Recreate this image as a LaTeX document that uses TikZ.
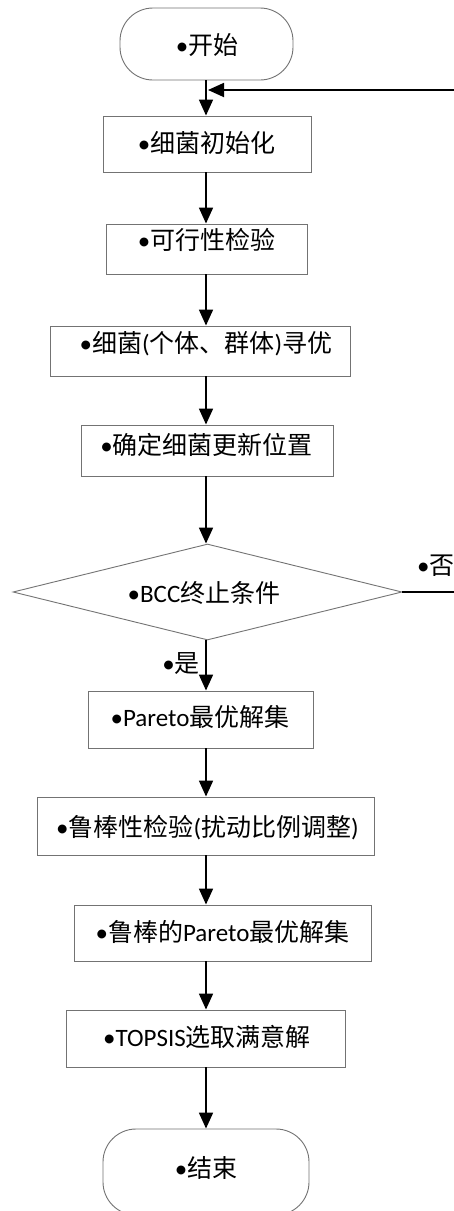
\documentclass[tikz,border=0pt]{standalone}
\usepackage{fontspec}
\setmainfont{Carlito}
\newfontfamily\cjk{Noto Sans CJK SC}
\usetikzlibrary{arrows.meta,shapes.geometric}
\newcommand{\zh}[1]{{\cjk #1}}
\begin{document}
\begin{tikzpicture}[x=1pt,y=-1pt,
  box/.style={draw=black!55, line width=0.9pt, rectangle, inner sep=0pt},
  term/.style={draw=black!55, line width=0.9pt, rectangle, rounded corners=33pt, inner sep=0pt},
  dec/.style={draw=black!55, line width=0.9pt, diamond, inner sep=0pt},
  txt/.style={inner sep=0pt, text height=22pt, text depth=3pt, font=\fontsize{25}{29}\selectfont},
  arr/.style={line width=1.8pt, -{Triangle[length=16pt,width=14pt]}},
  fb/.style={line width=1.8pt}]
\useasboundingbox (0,0) rectangle (454,1211);
\clip (0,0) rectangle (454,1211);
\fill[white] (0,0) rectangle (454,1211);
\coordinate (ax) at (206,0);
% shapes
\node[term, minimum width=173pt, minimum height=72pt] (start) at (206.5,44) {};
\node[box, minimum width=208pt, minimum height=56pt] (b1) at (207,144) {};
\node[box, minimum width=201pt, minimum height=50pt] (b2) at (206.5,249) {};
\node[box, minimum width=300pt, minimum height=50pt] (b3) at (200,351) {};
\node[box, minimum width=252pt, minimum height=51pt] (b4) at (207,450.5) {};
\node[dec, minimum width=389pt, minimum height=96pt] (dia) at (207.5,592) {};
\node[box, minimum width=225pt, minimum height=57pt] (b5) at (200.5,719.5) {};
\node[box, minimum width=337pt, minimum height=58pt] (b6) at (205.5,826) {};
\node[box, minimum width=297pt, minimum height=56pt] (b7) at (222.5,933) {};
\node[box, minimum width=279pt, minimum height=57pt] (b8) at (205.5,1038.5) {};
\node[term, minimum width=206pt, minimum height=86pt] (end) at (206,1172) {};
% texts
\node[txt] (t0) at (207,45) {•\zh{开始}};
\node[txt] (t1) at (206.5,143) {•\zh{细菌初始化}};
\node[txt] (t2) at (206.5,240) {•\zh{可行性检验}};
\node[txt] (t3) at (206,343) {•\zh{细菌}(\zh{个体、群体})\zh{寻优}};
\node[txt] (t4) at (206.5,445) {•\zh{确定细菌更新位置}};
\node[txt] (td) at (204,593) {•BCC\zh{终止条件}};
\node[txt] (t5) at (200,717) {•Pareto\zh{最优解集}};
\node[txt] (t6) at (207.5,827) {•\zh{鲁棒性检验}(\zh{扰动比例调整})};
\node[txt] (t7) at (222.5,932) {•\zh{鲁棒的}Pareto\zh{最优解集}};
\node[txt] (t8) at (207,1037) {•TOPSIS\zh{选取满意解}};
\node[txt] (te) at (206,1168) {•\zh{结束}};
\node[txt] (yes) at (181,663) {•\zh{是}};
\node[txt, anchor=west] (no) at (417,565) {•\zh{否}};
% connectors
\draw[arr] (start.south -| ax) -- (b1.north -| ax);
\draw[arr] (b1.south -| ax) -- (b2.north -| ax);
\draw[arr] (b2.south -| ax) -- (b3.north -| ax);
\draw[arr] (b3.south -| ax) -- (b4.north -| ax);
\draw[arr] (b4.south -| ax) -- (dia.north -| ax);
\draw[arr] (dia.south -| ax) -- (b5.north -| ax);
\draw[arr] (b5.south -| ax) -- (b6.north -| ax);
\draw[arr] (b6.south -| ax) -- (b7.north -| ax);
\draw[arr] (b7.south -| ax) -- (b8.north -| ax);
\draw[arr] (b8.south -| ax) -- (end.north -| ax);
% feedback loop
\coordinate (fbtop) at (462,90);
\coordinate (join) at (208,90);
\draw[fb] (dia.east) -- (dia.east -| fbtop) -- (fbtop);
\draw[arr] (fbtop) -- (join);
\end{tikzpicture}
\end{document}
